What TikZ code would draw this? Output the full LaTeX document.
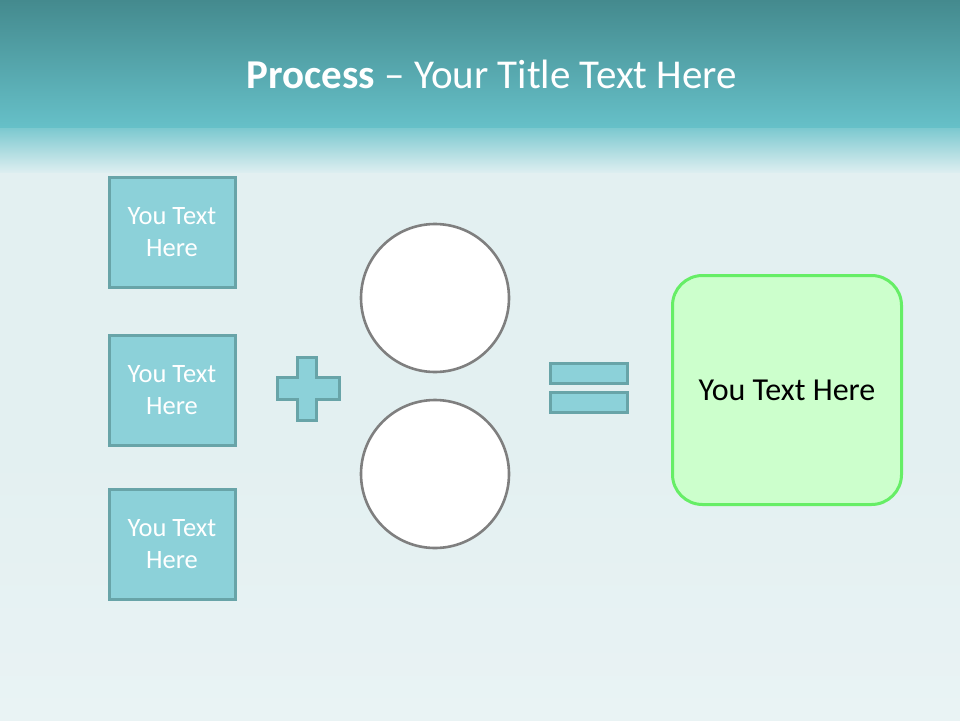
\documentclass[tikz,border=0pt]{standalone}
\usepackage{fontspec}
\setmainfont{Carlito}
\definecolor{bandtop}{HTML}{448A8E}
\definecolor{bandbot}{HTML}{66C0C8}
\definecolor{fadeend}{HTML}{DCEEF0}
\definecolor{bgmid}{HTML}{E3F0F1}
\definecolor{bglow}{HTML}{E9F3F4}
\definecolor{boxfill}{HTML}{8CD1D9}
\definecolor{boxline}{HTML}{68A4A8}
\definecolor{circline}{HTML}{7F7F7F}
\definecolor{greenfill}{HTML}{CCFFCC}
\definecolor{greenline}{HTML}{66EE66}
\begin{document}
\begin{tikzpicture}[x=1pt,y=-1pt,
  txtbox/.style={draw=boxline,fill=boxfill,line width=3pt,minimum width=126pt,minimum height=110pt,
    text=white,align=center,font=\fontsize{26.5}{32}\selectfont,inner sep=0pt},
  circ/.style={circle,draw=circline,fill=white,line width=2.6pt,minimum size=148pt,inner sep=0pt},
  signpart/.style={draw=boxline,fill=boxfill,line width=3pt},
  resultbox/.style={draw=greenline,fill=greenfill,line width=3pt,rounded corners=30pt,
    minimum width=229pt,minimum height=229pt,font=\fontsize{32}{36}\selectfont,inner sep=0pt}]
\useasboundingbox (0,0) rectangle (960,720);
% background
\fill[bgmid] (0,170) rectangle (960,720);
\shade[top color=bgmid,bottom color=bglow] (0,450) rectangle (960,720);
\shade[top color=bandbot!85!fadeend,bottom color=fadeend] (0,126) rectangle (960,172);
\shade[top color=bandtop,bottom color=bandbot] (0,0) rectangle (960,127);
% title
\node[text=white,font=\fontsize{41}{46}\selectfont,anchor=base] (title) at (492,88)
  {\textbf{Process} -- Your Title Text Here};
% left boxes
\node[txtbox] (b1) at (172,232) {You Text\\Here};
\node[txtbox] (b2) at (172,390) {You Text\\Here};
\node[txtbox] (b3) at (172,544) {You Text\\Here};
% plus sign
\draw[signpart] (297,357) -- (316,357) -- (316,377) -- (339,377) -- (339,399) -- (316,399)
  -- (316,420) -- (297,420) -- (297,399) -- (277,399) -- (277,377) -- (297,377) -- cycle;
% circles
\node[circ] (c1) at (435,298) {};
\node[circ] (c2) at (435,474) {};
% equals sign
\draw[signpart] (550,363) rectangle (627,383);
\draw[signpart] (550,392) rectangle (627,412);
% result
\node[resultbox] (r) at (787,390) {You Text Here};
\end{tikzpicture}
\end{document}
